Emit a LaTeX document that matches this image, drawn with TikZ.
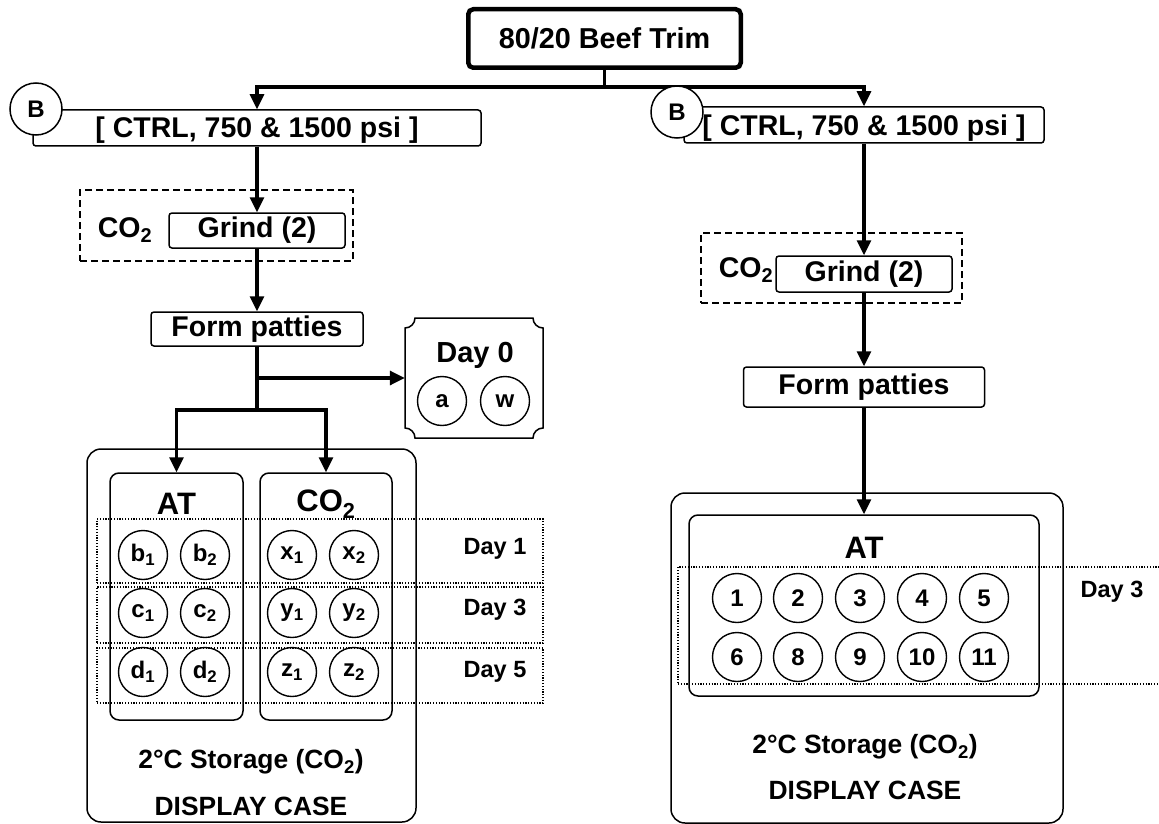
\documentclass[tikz,border=0pt]{standalone}
\usepackage{fontspec}
\setmainfont{Liberation Sans}
\usetikzlibrary{arrows.meta,calc}
\newcommand\fsz[1]{\fontsize{#1pt}{#1pt}\selectfont\bfseries}
\begin{document}
\begin{tikzpicture}[x=1pt,y=-1pt,
  box/.style={draw,line width=1.5pt,rounded corners=3pt,inner sep=0pt,font=\fsz{28.5}},
  dbox/.style={draw,line width=1.4pt,dash pattern=on 7pt off 4pt,inner sep=0pt},
  case/.style={draw,line width=1.5pt,rounded corners=14pt,inner sep=0pt},
  grp/.style={draw,line width=1.5pt,rounded corners=9pt,inner sep=0pt},
  conn/.style={line width=3.2pt,-{Triangle[length=15pt,width=14pt]}},
  link/.style={line width=3.2pt},
  pc/.style={circle,draw,line width=1.4pt,minimum size=49pt,inner sep=0pt,font=\fsz{24}},
  bc/.style={circle,draw,fill=white,line width=1.5pt,minimum size=52pt,inner sep=0pt,font=\fsz{24}},
  dayrow/.style={draw,line width=1.1pt,dash pattern=on 1.2pt off 1.6pt,inner sep=0pt},
  lbl/.style={inner sep=0pt},
  daylbl/.style={inner sep=0pt,font=\fsz{23.5}},
  hdr/.style={inner sep=0pt,font=\fsz{31}},
  ctxt/.style={inner sep=0pt,font=\fsz{26.4}}]
\useasboundingbox (0,0) rectangle (1159,824);

% top
\node[draw,line width=4.5pt,rounded corners=5pt,minimum width=272.5pt,minimum height=58.5pt,inner sep=0pt,font=\fsz{28.8}] (top) at (604.5,38.5) {80/20 Beef Trim};
\coordinate (split) at (604.5,87);

% left branch
\node[box,minimum width=448pt,minimum height=36pt] (ctrlL) at (257,128) {};
\node[lbl,font=\fsz{28.5}] (ctrlLt) at (257,130) {[ CTRL, 750 \& 1500 psi ]};
\node[dbox,minimum width=273pt,minimum height=71pt] (gdL) at (216.5,225.5) {};
\node[box,minimum width=176pt,minimum height=35pt] (grindL) at (257,230.5) {Grind (2)};
\node[lbl,font=\fsz{28.5}] (co2L) at (125,230) {CO\textsubscript{2}};
\node[box,minimum width=212pt,minimum height=34pt] (formL) at (257,329) {Form patties};

% Day 0 box (concave corners)
\node[minimum width=138pt,minimum height=120pt,inner sep=0pt] (day0) at (474,378) {};
\draw[line width=1.5pt]
  (415,318) -- (533,318) .. controls (533,323.52) and (537.48,328) .. (543,328)
  -- (543,428) .. controls (537.48,428) and (533,432.48) .. (533,438)
  -- (415,438) .. controls (415,432.48) and (410.52,428) .. (405,428)
  -- (405,328) .. controls (410.52,328) and (415,323.52) .. (415,318) -- cycle;
\node[lbl,font=\fsz{29}] (d0t) at (475,355) {Day 0};
\node[pc] (ca) at (442,401) {a};
\node[pc] (cw) at (505,401) {w};

% left display case
\node[case,minimum width=329pt,minimum height=373pt] (caseL) at (251.5,635.5) {};
\node[grp,minimum width=133pt,minimum height=247pt] (atL) at (176.5,596.5) {};
\node[grp,minimum width=132pt,minimum height=247pt] (coL) at (326,596.5) {};
\node[hdr] (atLt) at (176.5,504) {AT};
\node[hdr] (coLt) at (326,504) {CO\textsubscript{2}};
\node[dayrow,minimum width=446pt,minimum height=64pt] (r1) at (320,551) {};
\node[dayrow,minimum width=446pt,minimum height=56pt] (r3) at (320,615) {};
\node[dayrow,minimum width=446pt,minimum height=55pt] (r5) at (320,675.5) {};
\node[daylbl] (d1t) at (495,549) {Day 1};
\node[daylbl] (d3t) at (495,610) {Day 3};
\node[daylbl] (d5t) at (495,672) {Day 5};
\node[pc] (b1) at (143,555) {b\textsubscript{1}};
\node[pc] (b2) at (205,555) {b\textsubscript{2}};
\node[pc] (x1) at (292,555) {x\textsubscript{1}};
\node[pc] (x2) at (354,555) {x\textsubscript{2}};
\node[pc] (c1) at (143,613) {c\textsubscript{1}};
\node[pc] (c2) at (205,613) {c\textsubscript{2}};
\node[pc] (y1) at (292,613) {y\textsubscript{1}};
\node[pc] (y2) at (354,613) {y\textsubscript{2}};
\node[pc] (e1) at (143,672) {d\textsubscript{1}};
\node[pc] (e2) at (205,672) {d\textsubscript{2}};
\node[pc] (z1) at (292,672) {z\textsubscript{1}};
\node[pc] (z2) at (354,672) {z\textsubscript{2}};
\node[ctxt] (stL) at (251,762) {2°C Storage (CO\textsubscript{2})};
\node[ctxt] (dcL) at (251,806) {DISPLAY CASE};

% right branch
\node[box,minimum width=360pt,minimum height=36pt] (ctrlR) at (864,125) {};
\node[lbl,font=\fsz{28.5}] (ctrlRt) at (864,128) {[ CTRL, 750 \& 1500 psi ]};
\node[dbox,minimum width=261pt,minimum height=70pt] (gdR) at (831.5,268) {};
\node[box,minimum width=176pt,minimum height=36pt] (grindR) at (864,274) {Grind (2)};
\node[lbl,font=\fsz{28.5}] (co2R) at (746,270) {CO\textsubscript{2}};
\node[box,minimum width=241pt,minimum height=40pt] (formR) at (864,387) {Form patties};
\node[case,minimum width=392pt,minimum height=330pt] (caseR) at (867,658) {};
\node[grp,minimum width=350pt,minimum height=181pt] (atR) at (864,605.5) {};
\node[hdr] (atRt) at (864,548) {AT};
\node[dayrow,minimum width=500pt,minimum height=117pt] (rR) at (928,625.5) {};
\node[daylbl] (dRt) at (1112,592) {Day 3};
\foreach \n/\x/\y in {1/737/598,2/798/598,3/860/598,4/922/598,5/984/598,6/737/657,8/798/657,9/860/657,10/922/657,11/984/657}
  \node[pc] (n\n) at (\x,\y) {\n};
\node[ctxt] (stR) at (865,747) {2°C Storage (CO\textsubscript{2})};
\node[ctxt] (dcR) at (865,790) {DISPLAY CASE};

% connectors
\draw[link] (top.south) -- (split);
\draw[conn] (split) -| (ctrlL.north);
\draw[conn] (split) -| (ctrlR.north);
\node[bc] (bL) at (36,109) {B};
\node[bc] (bR) at (677,112) {B};
\draw[conn] (ctrlL.south) -- (grindL.north);
\draw[conn] (grindL.south) -- (formL.north);
\coordinate (fb1) at (257,378);
\coordinate (fb2) at (257,410);
\draw[link] (formL.south) -- (fb2);
\draw[conn] (fb1) -- (day0.west);
\draw[conn] (fb2) -| (atL.north);
\draw[conn] (fb2) -| (coL.north);
\draw[conn] (ctrlR.south) -- (grindR.north);
\draw[conn] (grindR.south) -- (formR.north);
\draw[conn] (formR.south) -- (atR.north);
\end{tikzpicture}
\end{document}
